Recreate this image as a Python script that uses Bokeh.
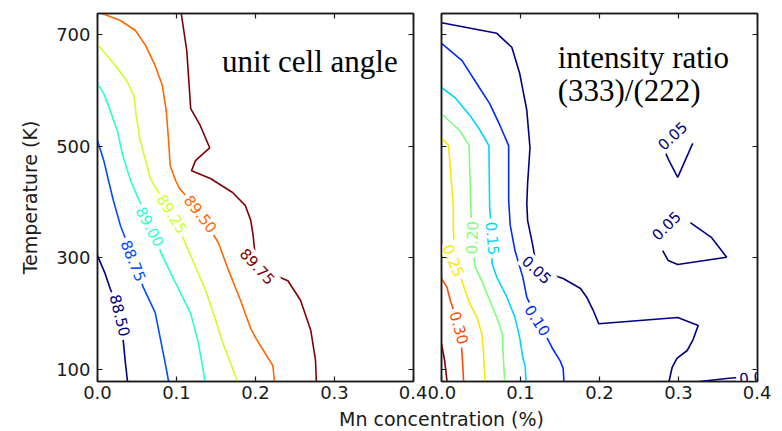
from bokeh.plotting import figure
from bokeh.models import Range1d, FixedTicker, LinearAxis, Label, PrintfTickFormatter
from bokeh.layouts import row, column
from bokeh.embed import file_html
from bokeh.resources import INLINE
from bokeh.core.properties import value

# ---------------- left panel: unit cell angle (deg) ----------------
angle_levels = [88.50, 88.75, 89.00, 89.25, 89.50, 89.75]
angle_colors = ["#000080", "#004cff", "#29ffce", "#ceff29", "#ff6800", "#800000"]

a8850_x = [0, 0.009, 0.016, 0.029, 0.033, 0.035, 0.038]
a8850_T = [304, 274, 245, 197, 146, 116, 78.5]
a8875_x = [0, 0.008, 0.014, 0.020, 0.029, 0.046, 0.058, 0.073, 0.080, 0.087, 0.090]
a8875_T = [510, 474, 438, 403, 358, 295, 247, 202, 152, 102, 78.5]
a8900_x = [0, 0.008, 0.016, 0.025, 0.032, 0.042, 0.049, 0.067, 0.082, 0.096, 0.118, 0.127, 0.134, 0.136]
a8900_T = [612, 594, 564, 528, 483, 438, 415, 356, 304, 263, 200, 152, 98, 78.5]
a8925_x = [0, 0.010, 0.023, 0.037, 0.046, 0.049, 0.054, 0.061, 0.067, 0.072, 0.095, 0.111, 0.124,
           0.137, 0.149, 0.159, 0.171, 0.177]
a8925_T = [682, 666, 644, 617, 591, 555, 510, 474, 442, 429, 379, 327, 284, 241, 191, 146, 102, 78.5]
a8950_x = [0.006, 0.029, 0.048, 0.061, 0.073, 0.082, 0.087, 0.090, 0.092, 0.099, 0.104, 0.131, 0.153,
           0.166, 0.181, 0.194, 0.200, 0.210, 0.222, 0.224]
a8950_T = [737.5, 725, 707, 680, 644, 609, 564, 510, 465, 438, 424, 379, 327, 277, 224, 173, 157, 134,
           107, 78.5]
a8975_x = [0.106, 0.113, 0.118, 0.130, 0.142, 0.124, 0.119, 0.143, 0.171, 0.187, 0.194, 0.197, 0.201,
           0.241, 0.257, 0.270, 0.276, 0.277]
a8975_T = [737.5, 671, 567, 537, 497, 474, 456, 442, 417, 394, 367, 340, 283, 259, 224, 170, 116, 78.5]

angle_label_text = ["88.50", "88.75", "89.00", "89.25", "89.50", "89.75"]
angle_label_x = [0.029, 0.046, 0.067, 0.095, 0.131, 0.203]
angle_label_T = [197, 295, 356, 379, 379, 285]
angle_label_rot = [-76, -68, -62, -58, -52, -47]

# ---------------- right panel: intensity ratio (333)/(222) ----------------
ratio_levels = [0.05, 0.10, 0.15, 0.20, 0.25, 0.30, 0.35]
ratio_colors = ["#000080", "#002aff", "#00d4ff", "#7bff7b", "#ffe500", "#ff4800", "#800000"]

r005a_x = [0, 0.070, 0.089, 0.099, 0.108, 0.112, 0.109, 0.108, 0.109, 0.115, 0.121, 0.154, 0.176,
           0.184, 0.192, 0.199, 0.299, 0.325, 0.318, 0.311, 0.298, 0.292, 0.288]
r005a_T = [721, 702, 677, 630, 564, 497, 433, 397, 367, 326, 279, 263, 245, 229, 206, 182, 193, 179,
           152, 134, 120, 104, 78.5]
r005b_x = [0.318, 0.299, 0.288, 0.281]
r005b_T = [505, 444, 474, 496]
r005c_x = [0.315, 0.342, 0.361, 0.299, 0.287, 0.280]
r005c_T = [363, 336, 301, 288, 295, 313]
r005d_x = [0.327, 0.361, 0.41]
r005d_T = [78.5, 84, 90]
r010_x = [0, 0.026, 0.046, 0.061, 0.074, 0.085, 0.085, 0.087, 0.093, 0.103, 0.108, 0.122, 0.140,
          0.150, 0.154, 0.155]
r010_T = [684, 653, 609, 576, 537, 501, 403, 358, 313, 265, 229, 188, 139, 116, 102, 78.5]
r015_x = [0, 0.017, 0.036, 0.049, 0.060, 0.061, 0.064, 0.064, 0.070, 0.083, 0.093, 0.099, 0.103,
          0.106, 0.107]
r015_T = [605, 587, 555, 528, 501, 388, 335, 290, 265, 229, 193, 157, 121, 104, 78.5]
r020_x = [0, 0.023, 0.035, 0.037, 0.039, 0.042, 0.049, 0.061, 0.070, 0.077, 0.078, 0.080]
r020_T = [558, 528, 501, 390, 336, 286, 265, 224, 193, 164, 129, 78.5]
r025_x = [0, 0.009, 0.015, 0.015, 0.017, 0.030, 0.036, 0.045, 0.051, 0.053, 0.055]
r025_T = [515, 501, 390, 354, 295, 241, 218, 193, 164, 134, 78.5]
r030_x = [0, 0.007, 0.011, 0.023, 0.026, 0.027, 0.028]
r030_T = [263, 247, 224, 175, 129, 104, 78.5]
r035_x = [0, 0.004, 0.007]
r035_T = [146, 116, 78.5]

ratio_label_text = ["0.30", "0.25", "0.20", "0.15", "0.10", "0.05", "0.05", "0.05", "0.05"]
ratio_label_level = [5, 4, 3, 2, 1, 0, 0, 0, 0]
ratio_label_x = [0.023, 0.016, 0.038, 0.065, 0.122, 0.121, 0.292, 0.284, 0.398]
ratio_label_T = [175, 295, 336, 335, 188, 279, 519, 358, 87]
ratio_label_rot = [-74, -68, 88, -85, -57, -43, 43, 45, 5]

x_ticks = [0.0, 0.1, 0.2, 0.3, 0.4]
T_ticks = [100, 300, 500, 700]
x_range_data = (0.0, 0.4)
T_range_data = (78.5, 737.5)

TICK_FONT = "DejaVu Sans"
INK = "#1a1a1a"


def add_axis(p, side, ticks, show_labels, fmt=None):
    ax = LinearAxis(ticker=FixedTicker(ticks=ticks))
    ax.major_tick_in = 5
    ax.major_tick_out = 0
    ax.minor_tick_line_color = None
    ax.major_tick_line_color = INK
    ax.major_tick_line_width = 1.2
    ax.axis_line_color = INK
    ax.axis_line_width = 1.5
    if fmt is not None:
        ax.formatter = fmt
    if show_labels:
        ax.major_label_text_font = TICK_FONT
        ax.major_label_text_font_size = "18px"
        ax.major_label_text_color = INK
        ax.major_label_standoff = 4 if side == "below" else 7
    else:
        ax.major_label_text_font_size = "0px"
        ax.major_label_text_color = None
        ax.major_label_standoff = 0
    p.add_layout(ax, side)
    return ax


def make_panel(width, mb_left, mb_right, ylabels):
    p = figure(width=width, height=404, title=None,
               x_range=Range1d(*x_range_data), y_range=Range1d(*T_range_data),
               x_axis_location=None, y_axis_location=None,
               min_border_left=mb_left, min_border_right=mb_right,
               min_border_top=13, min_border_bottom=23,
               output_backend="svg", toolbar_location=None)
    p.grid.visible = False
    p.outline_line_color = INK
    p.outline_line_width = 1.5
    p.outline_line_alpha = 1.0
    add_axis(p, "below", x_ticks, True, PrintfTickFormatter(format="%.1f"))
    add_axis(p, "above", x_ticks, False)
    lax = add_axis(p, "left", T_ticks, ylabels)
    add_axis(p, "right", T_ticks, False)
    if ylabels:
        lax.axis_label = "Temperature (K)"
        lax.axis_label_text_font = TICK_FONT
        lax.axis_label_text_font_size = "19px"
        lax.axis_label_text_font_style = "normal"
        lax.axis_label_text_color = INK
        lax.axis_label_standoff = 12
    return p


# ---------- left figure ----------
p1 = make_panel(427, 97, 14, True)
angle_lines = [(a8850_x, a8850_T), (a8875_x, a8875_T), (a8900_x, a8900_T),
               (a8925_x, a8925_T), (a8950_x, a8950_T), (a8975_x, a8975_T)]
for (xs, ts), c in zip(angle_lines, angle_colors):
    p1.line(xs, ts, line_color=c, line_width=1.6)
p1.text(x=angle_label_x, y=angle_label_T, text=angle_label_text, angle=angle_label_rot,
        angle_units="deg", text_align="center", text_baseline="middle",
        text_color=angle_colors, text_font=value(TICK_FONT), text_font_size=value("15px"),
        background_fill_color="white", padding=3)
p1.add_layout(Label(x=0.38, y=652, text="unit cell angle", text_align="right",
                    text_baseline="alphabetic", text_font="Liberation Serif",
                    text_font_size="31px", text_color="black"))

# ---------- right figure ----------
p2 = make_panel(344, 14, 14, False)
ratio_lines = [(r005a_x, r005a_T, 0), (r005b_x, r005b_T, 0), (r005c_x, r005c_T, 0),
               (r005d_x, r005d_T, 0), (r010_x, r010_T, 1), (r015_x, r015_T, 2),
               (r020_x, r020_T, 3), (r025_x, r025_T, 4), (r030_x, r030_T, 5),
               (r035_x, r035_T, 6)]
for xs, ts, k in ratio_lines:
    p2.line(xs, ts, line_color=ratio_colors[k], line_width=1.6)
p2.text(x=ratio_label_x, y=ratio_label_T, text=ratio_label_text, angle=ratio_label_rot,
        angle_units="deg", text_align="center", text_baseline="middle",
        text_color=[ratio_colors[k] for k in ratio_label_level],
        text_font=value(TICK_FONT), text_font_size=value("15px"),
        background_fill_color="white", padding=3)
p2.add_layout(Label(x=0.147, y=659, text="intensity ratio", text_align="left",
                    text_baseline="alphabetic", text_font="Liberation Serif",
                    text_font_size="31px", text_color="black"))
p2.add_layout(Label(x=0.147, y=599, text="(333)/(222)", text_align="left",
                    text_baseline="alphabetic", text_font="Liberation Serif",
                    text_font_size="31px", text_color="black"))

# ---------- shared x-axis title ----------
pl = figure(width=771, height=26, title=None, x_range=Range1d(0, 771), y_range=Range1d(0, 26),
            x_axis_type=None, y_axis_type=None, min_border=0,
            output_backend="svg", toolbar_location=None)
pl.outline_line_color = None
pl.add_layout(Label(x=441, y=12, text="Mn concentration (%)", text_align="center",
                    text_baseline="middle", text_font=TICK_FONT,
                    text_font_size="19px", text_color=INK))

layout = column(row(p1, p2), pl)
open("out.html", "w").write(file_html(layout, INLINE))
